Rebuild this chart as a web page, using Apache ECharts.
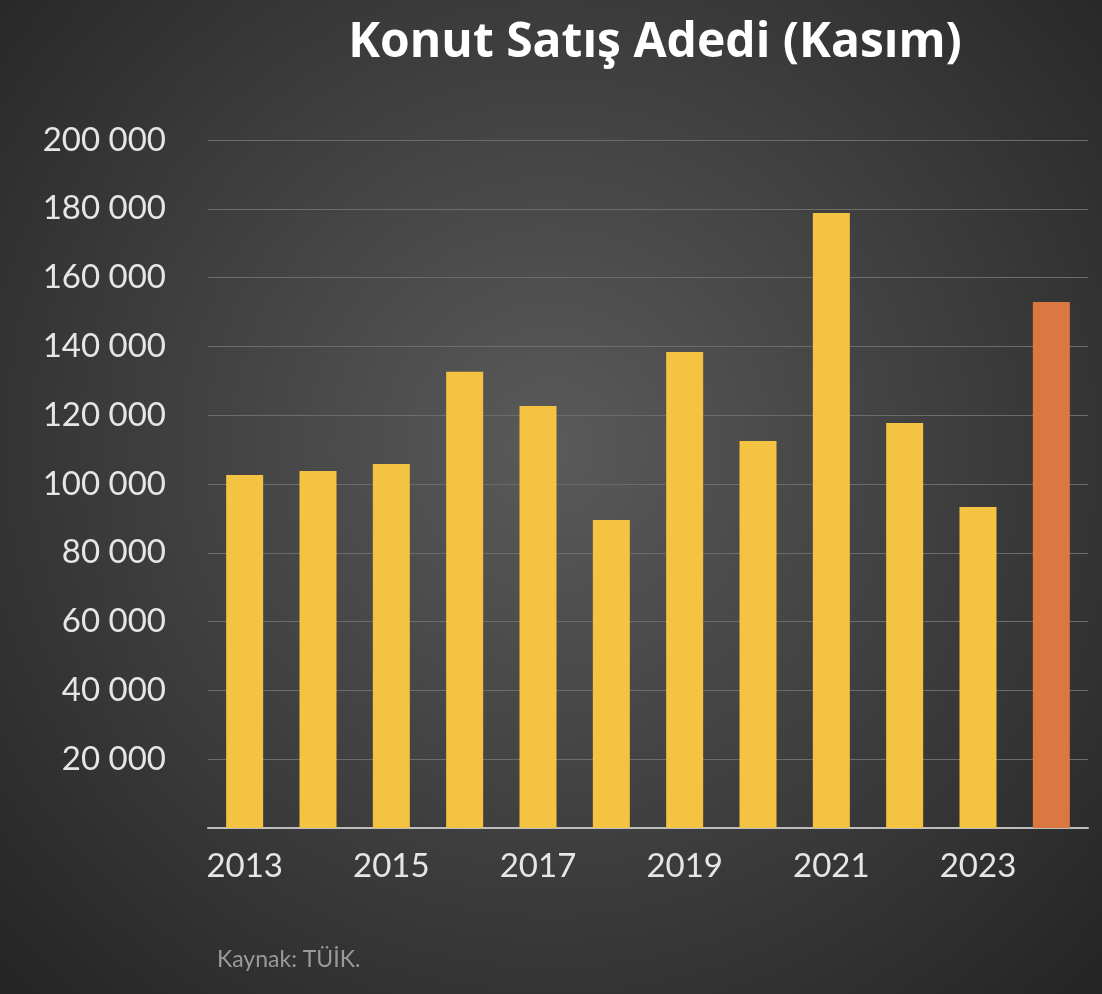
<!DOCTYPE html>
<html><head><meta charset="utf-8">
<script src="https://cdn.jsdelivr.net/npm/echarts@6/dist/echarts.min.js"></script>
<style>html,body{margin:0;padding:0;background:#333}#c{width:1102px;height:994px}</style>
</head><body><div id="c"></div>
<script>
const years = ['2013','2014','2015','2016','2017','2018','2019','2020','2021','2022','2023','2024'];
const sales = [102600,103800,105800,132600,122700,89500,138400,112500,178800,117700,93300,152900];
const highlightYear = '2024';
const chart = echarts.init(document.getElementById('c'));
chart.setOption({
  backgroundColor: {type:'radial',x:0.5,y:0.45,r:0.75,colorStops:[{offset:0,color:'#5a5a5a'},{offset:1,color:'#262626'}]},
  title:{text:'Konut Satış Adedi (Kasım)',left:650,top:14,textAlign:'center',
    textStyle:{color:'#ffffff',fontSize:48,fontWeight:'bold',fontFamily:'Open Sans'}},
  graphic:[{type:'text',left:217,top:948,style:{text:'Kaynak: TÜİK.',fill:'#9a9a9a',fontSize:23,fontFamily:'Lato'}}],
  grid:{left:208,right:14,top:140,bottom:166,containLabel:false},
  xAxis:{type:'category',data:years,
    axisLine:{lineStyle:{color:'#bdbdbd',width:2}},axisTick:{show:false},
    axisLabel:{color:'#e6e6e6',fontSize:33,fontFamily:'Lato',margin:22,interval:1}},
  yAxis:{type:'value',min:0,max:200000,interval:20000,
    axisLine:{show:false},axisTick:{show:false},
    splitLine:{lineStyle:{color:'#6c6c6c',width:1}},
    axisLabel:{color:'#e6e6e6',fontSize:33,fontFamily:'Lato',margin:42,
      formatter:v=>v===0?'':String(v).replace(/\B(?=(\d{3})+(?!\d))/g,' ')}},
  series:[{type:'bar',barWidth:37,
    data:sales.map((v,i)=>({value:v,itemStyle:{color:years[i]===highlightYear?'#db7741':'#f5c342'}}))}]
});
</script></body></html>
